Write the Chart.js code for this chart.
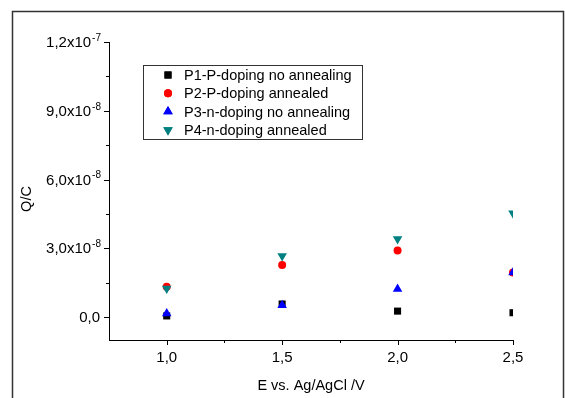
<!DOCTYPE html>
<html>
<head>
<meta charset="utf-8">
<script src="https://cdn.jsdelivr.net/npm/chart.js@4"></script>
<style>
  html, body { margin: 0; padding: 0; background: #fff; }
  #wrap { width: 565px; height: 398px; position: relative; }
</style>
</head>
<body>
<div id="wrap"><canvas id="qChart" width="565" height="398"></canvas></div>
<script>
// ---------- data ----------
const potentials = [1.0, 1.5, 2.0, 2.5];
const p1Values = [0.05e-8, 0.57e-8, 0.26e-8, 0.19e-8];
const p2Values = [1.32e-8, 2.27e-8, 2.90e-8, 1.95e-8];
const p3Values = [0.16e-8, 0.52e-8, 1.22e-8, 1.95e-8];
const p4Values = [1.25e-8, 2.66e-8, 3.41e-8, 4.53e-8];
const seriesNames = [
  'P1-P-doping no annealing',
  'P2-P-doping annealed',
  'P3-n-doping no annealing',
  'P4-n-doping annealed'
];

// ---------- axis ticks ----------
const xTicks = [1.0, 1.5, 2.0, 2.5];
const xTickLabels = ['1,0', '1,5', '2,0', '2,5'];
const xMinorTicks = [1.25, 1.75, 2.25];
const yTicks = [0, 3e-8, 6e-8, 9e-8, 1.2e-7];
const yTickMantissa = ['0,0', '3,0x10', '6,0x10', '9,0x10', '1,2x10'];
const yTickExponent = ['', '-8', '-8', '-8', '-7'];
const yMinorTicks = [1.5e-8, 4.5e-8, 7.5e-8, 1.05e-7];

const FONT = '"Liberation Sans", Arial, sans-serif';

function toPoints(values) {
  return values.map((v, i) => ({ x: potentials[i], y: v }));
}

const styles = [
  { color: '#000000', pointStyle: 'rect', radius: 5, rotation: 0 },
  { color: '#ff0000', pointStyle: 'circle', radius: 4, rotation: 0 },
  { color: '#0000ff', pointStyle: 'triangle', radius: 5.5, rotation: 0 },
  { color: '#008080', pointStyle: 'triangle', radius: 5.5, rotation: 180 }
];
const allValues = [p1Values, p2Values, p3Values, p4Values];

// ---------- Origin-like axes, labels and legend ----------
const originAxes = {
  id: 'originAxes',
  afterDraw(chart) {
    const ctx = chart.ctx;
    const xs = chart.scales.x, ys = chart.scales.y;
    const area = chart.chartArea;
    ctx.save();

    // outer frame
    ctx.strokeStyle = '#333';
    ctx.lineWidth = 1.5;
    ctx.strokeRect(12.5, 11.5, 551, 400);

    // tick marks
    ctx.strokeStyle = '#000';
    ctx.lineWidth = 1;
    ctx.beginPath();
    xTicks.forEach(v => {
      const px = Math.round(xs.getPixelForValue(v)) + 0.5;
      ctx.moveTo(px, area.bottom); ctx.lineTo(px, area.bottom + 5);
    });
    xMinorTicks.forEach(v => {
      const px = Math.round(xs.getPixelForValue(v)) + 0.5;
      ctx.moveTo(px, area.bottom); ctx.lineTo(px, area.bottom + 3);
    });
    yTicks.forEach(v => {
      const py = Math.round(ys.getPixelForValue(v)) + 0.5;
      ctx.moveTo(area.left, py); ctx.lineTo(area.left - 5, py);
    });
    yMinorTicks.forEach(v => {
      const py = Math.round(ys.getPixelForValue(v)) + 0.5;
      ctx.moveTo(area.left, py); ctx.lineTo(area.left - 3, py);
    });
    ctx.stroke();

    // x tick labels
    ctx.fillStyle = '#000';
    ctx.font = '15px ' + FONT;
    ctx.textAlign = 'center';
    ctx.textBaseline = 'middle';
    xTicks.forEach((v, i) => {
      ctx.fillText(xTickLabels[i], xs.getPixelForValue(v), area.bottom + 18);
    });

    // y tick labels with superscript exponent
    yTicks.forEach((v, i) => {
      const py = ys.getPixelForValue(v);
      let right = area.left - 10;
      ctx.textAlign = 'right';
      if (yTickExponent[i]) {
        ctx.font = '10px ' + FONT;
        const ew = ctx.measureText(yTickExponent[i]).width;
        ctx.fillText(yTickExponent[i], right + 2, py - 4);
        right -= ew;
      }
      ctx.font = '15px ' + FONT;
      ctx.fillText(yTickMantissa[i], right + 1, py + 1);
    });

    // axis titles
    ctx.font = '14.5px ' + FONT;
    ctx.textAlign = 'center';
    ctx.fillText('E vs. Ag/AgCl /V', (area.left + area.right) / 2, 386);
    ctx.save();
    ctx.translate(27, 199);
    ctx.rotate(-Math.PI / 2);
    ctx.fillText('Q/C', 0, 0);
    ctx.restore();

    // legend box
    ctx.strokeStyle = '#333';
    ctx.lineWidth = 1;
    ctx.strokeRect(143.5, 65.5, 219, 74);
    ctx.textAlign = 'left';
    ctx.font = '14.5px ' + FONT;
    seriesNames.forEach((name, i) => {
      const cy = 75 + i * 18.3;
      const st = styles[i];
      ctx.fillStyle = st.color;
      Chart.helpers.drawPoint(ctx, {
        pointStyle: st.pointStyle, radius: st.radius, rotation: st.rotation, borderWidth: 0
      }, 168, cy);
      ctx.fill();
      ctx.fillStyle = '#000';
      ctx.fillText(name, 184, cy + 1);
    });

    ctx.restore();
  }
};

new Chart(document.getElementById('qChart'), {
  type: 'scatter',
  data: {
    datasets: allValues.map((vals, i) => ({
      label: seriesNames[i],
      data: toPoints(vals),
      pointStyle: styles[i].pointStyle,
      rotation: styles[i].rotation,
      pointRadius: styles[i].radius,
      pointHoverRadius: styles[i].radius,
      backgroundColor: styles[i].color,
      borderColor: styles[i].color,
      borderWidth: 0,
      order: allValues.length - i,  // later series drawn on top, as in the original
      clip: 0
    }))
  },
  options: {
    responsive: false,
    devicePixelRatio: 1,
    animation: false,
    layout: { padding: { left: 109, top: 42, right: 52, bottom: 58 } },
    plugins: {
      legend: { display: false },
      tooltip: { enabled: false }
    },
    scales: {
      x: {
        type: 'linear',
        min: 0.75,
        max: 2.5,
        ticks: { display: false },
        grid: { display: false, drawTicks: false },
        border: { display: true, color: '#000', width: 1 }
      },
      y: {
        type: 'linear',
        min: -1e-8,
        max: 1.2e-7,
        ticks: { display: false },
        grid: { display: false, drawTicks: false },
        border: { display: true, color: '#000', width: 1 }
      }
    }
  },
  plugins: [originAxes]
});
</script>
</body>
</html>
